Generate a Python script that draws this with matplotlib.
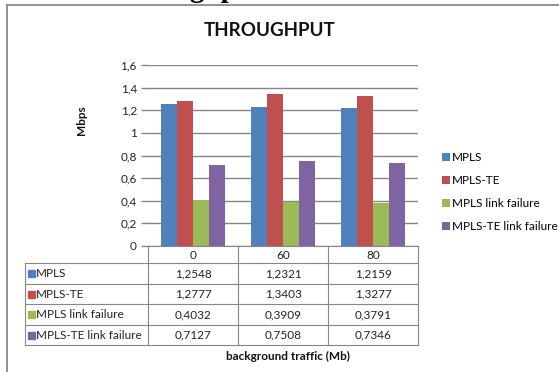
"""Throughput comparison of MPLS and MPLS-TE under background traffic."""

import matplotlib

matplotlib.use("Agg")
import matplotlib.pyplot as plt
from matplotlib.patches import Rectangle

traffic = ["0", "60", "80"]
series_names = ["MPLS", "MPLS-TE", "MPLS link failure", "MPLS-TE link failure"]
mpls = [1.2548, 1.2321, 1.2159]
mpls_te = [1.2777, 1.3403, 1.3277]
mpls_fail = [0.4032, 0.3909, 0.3791]
mpls_te_fail = [0.7127, 0.7508, 0.7346]
y_ticks = [0, 0.2, 0.4, 0.6, 0.8, 1.0, 1.2, 1.4, 1.6]

colors = ["#4F81BD", "#C0504D", "#9BBB59", "#8064A2"]
grid_col = "#868686"
W, H = 559, 372
FONT = "Lato"
FS = 8.5


def comma(v, fmt="{:g}"):
    return fmt.format(v).replace(".", ",")


def fx(px):
    return px / W


def fy(py):
    return 1 - py / H


series = [mpls, mpls_te, mpls_fail, mpls_te_fail]

fig = plt.figure(figsize=(W / 100, H / 100), dpi=100)
fig.patch.set_facecolor("white")

# plot area in pixel geometry: x 148..418, y 65..246
ax = fig.add_axes([fx(148), fy(246), fx(418) - fx(148), fy(65) - fy(246)])
bar_w = 0.178
handles = []
for k, (name, vals, col) in enumerate(zip(series_names, series, colors)):
    xs = [i + (k - 1.5) * bar_w for i in range(len(traffic))]
    h = ax.bar(xs, vals, width=bar_w, color=col, label=name, zorder=3)
    handles.append(h)

ax.set_xlim(-0.5, len(traffic) - 0.5)
ax.set_ylim(0, 1.6)
ax.set_yticks(y_ticks, [comma(t) for t in y_ticks], fontsize=FS, family=FONT, color="#222")
ax.set_xticks([])
ax.yaxis.grid(True, color=grid_col, linewidth=1.0, zorder=0)
ax.tick_params(axis="y", length=5, color=grid_col, width=1.0, pad=3)
for side in ["left", "right", "top", "bottom"]:
    ax.spines[side].set_visible(False)
ax.set_facecolor("none")

ax.legend(
    handles=handles,
    loc="center left",
    bbox_to_anchor=(fx(436), fy(192)),
    bbox_transform=fig.transFigure,
    frameon=False,
    prop={"family": FONT, "size": FS},
    handlelength=0.65,
    handleheight=0.65,
    handletextpad=0.2,
    labelspacing=1.0,
    borderpad=0,
)

# overlay in pixel coordinates for the frame, title and data table
ov = fig.add_axes([0, 0, 1, 1])
ov.set_xlim(0, W)
ov.set_ylim(H, 0)
ov.axis("off")
ov.patch.set_alpha(0)

ov.plot([7, 7], [5, H], color="#888888", linewidth=1.3)
ov.plot([7, W], [5, 5], color="#888888", linewidth=1.3)
ov.text(112, -3, "Throughput", fontsize=21, fontweight="bold",
        family="Liberation Serif", va="baseline", ha="left", clip_on=False)

ov.text(270, 30, "THROUGHPUT", fontsize=13.5, fontweight="bold", family=FONT,
        ha="center", va="center", color="#111")
ov.text(82, 120, "Mbps", fontsize=FS, fontweight="bold", family=FONT,
        rotation=90, ha="center", va="center", color="#111")

col_x = [148 + 90 * i for i in range(len(traffic) + 1)]
head_top, head_bot = 246, 263
row_h = 20.5
rows_y = [head_bot + row_h * r for r in range(len(series) + 1)]
left_x = 25
lw = 0.8

# header row and column borders
ov.plot([col_x[0], col_x[-1]], [head_top, head_top], color=grid_col, linewidth=lw)
for x in col_x:
    ov.plot([x, x], [head_top, rows_y[-1]], color=grid_col, linewidth=lw)
ov.plot([left_x, left_x], [head_bot, rows_y[-1]], color=grid_col, linewidth=lw)
for y in rows_y:
    ov.plot([left_x, col_x[-1]], [y, y], color=grid_col, linewidth=lw)

for i, lab in enumerate(traffic):
    ov.text((col_x[i] + col_x[i + 1]) / 2, (head_top + head_bot) / 2 + 1, lab,
            fontsize=FS, family=FONT, ha="center", va="center", color="#222")

for r, (name, vals, col) in enumerate(zip(series_names, series, colors)):
    yc = (rows_y[r] + rows_y[r + 1]) / 2
    ov.add_patch(Rectangle((28, yc - 3), 7, 7, color=col))
    ov.text(36, yc + 0.5, name, fontsize=FS, family=FONT, ha="left", va="center", color="#222")
    for i, v in enumerate(vals):
        ov.text((col_x[i] + col_x[i + 1]) / 2, yc + 0.5, comma(v, "{:.4f}"),
                fontsize=FS, family=FONT, ha="center", va="center", color="#222")

ov.text(288, rows_y[-1] + 11, "background traffic (Mb)", fontsize=FS, fontweight="bold",
        family=FONT, ha="center", va="center", color="#111")

fig.savefig("out.png", dpi=100)
